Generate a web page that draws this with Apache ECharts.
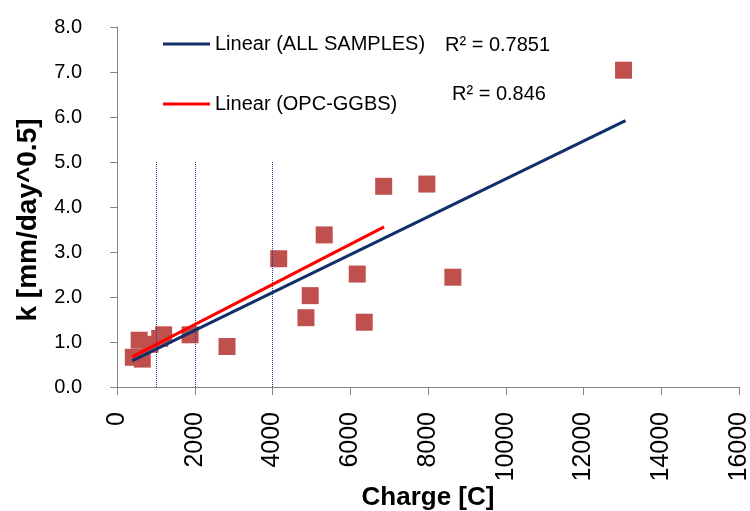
<!DOCTYPE html>
<html>
<head>
<meta charset="utf-8">
<script src="https://cdn.jsdelivr.net/npm/echarts@6/dist/echarts.min.js"></script>
<style>
  html, body { margin: 0; padding: 0; background: #fff; }
  #main { width: 750px; height: 511px; }
</style>
</head>
<body>
<div id="main"></div>
<script>
// measured samples: [charge C, k mm/day^0.5]
var samples = [
  [420, 0.66], [650, 0.62], [570, 1.04], [850, 0.95],
  [1100, 1.08], [1200, 1.16], [1880, 1.16], [2830, 0.90],
  [4160, 2.85], [4860, 1.54], [4970, 2.03], [5330, 3.38],
  [6180, 2.51], [6360, 1.44], [6860, 4.46], [7970, 4.51],
  [8640, 2.44], [13030, 7.04]
];
// trend line end points
var trendAll = [[390, 0.58], [13080, 5.92]];
var trendOpc = [[390, 0.67], [6870, 3.56]];
// dotted guide lines
var guideX = [1000, 2000, 4000];
var guideTop = 5;
var seriesNames = ['Linear (ALL SAMPLES)', 'Linear (OPC-GGBS)'];
var r2Labels = ['R\u00b2 = 0.7851', 'R\u00b2 = 0.846'];

var FONT = '"Liberation Sans", Arial, sans-serif';
var axisGrey = '#868686';

var myChart = echarts.init(document.getElementById('main'));

var guideData = guideX.map(function (x) {
  return [{ coord: [x, 0] }, { coord: [x, guideTop] }];
});

var option = {
  animation: false,
  backgroundColor: '#fff',
  grid: {
    left: 117,
    right: 11,
    top: 27,
    bottom: 124,
    outerBoundsMode: 'none'
  },
  legend: {
    data: seriesNames,
    orient: 'vertical',
    left: 158,
    top: 29,
    itemGap: 40,
    itemWidth: 47,
    itemHeight: 3,
    icon: 'rect',
    textStyle: { fontFamily: FONT, fontSize: 20, color: '#000' }
  },
  graphic: [
    {
      type: 'text', left: 445, top: 35,
      style: { text: r2Labels[0], font: '20px ' + FONT, fill: '#000' }
    },
    {
      type: 'text', left: 452, top: 84,
      style: { text: r2Labels[1], font: '20px ' + FONT, fill: '#000' }
    }
  ],
  xAxis: {
    type: 'value',
    min: 0,
    max: 16000,
    interval: 2000,
    name: 'Charge [C]',
    nameLocation: 'middle',
    nameGap: 98,
    nameMoveOverlap: false,
    nameTextStyle: { fontFamily: FONT, fontSize: 26, fontWeight: 'bold', color: '#000' },
    axisLine: { show: true, lineStyle: { color: axisGrey, width: 1 } },
    axisTick: { show: true, length: 8, lineStyle: { color: axisGrey } },
    splitLine: { show: false },
    axisLabel: {
      rotate: 90,
      margin: 25,
      fontFamily: FONT,
      fontSize: 25,
      color: '#000',
      formatter: function (v) { return String(v); }
    }
  },
  yAxis: {
    type: 'value',
    min: 0,
    max: 8,
    interval: 1,
    name: 'k [mm/day^0.5]',
    nameLocation: 'middle',
    nameGap: 75,
    nameMoveOverlap: false,
    nameTextStyle: {
      fontFamily: FONT, fontSize: 28, fontWeight: 'bold', color: '#000',
      padding: [0, 26, 0, 0]
    },
    axisLine: { show: true, lineStyle: { color: axisGrey, width: 1 } },
    axisTick: { show: true, length: 7, lineStyle: { color: axisGrey } },
    splitLine: { show: false },
    axisLabel: {
      margin: 35,
      fontFamily: FONT,
      fontSize: 20,
      color: '#000',
      formatter: function (v) { return v.toFixed(1); }
    }
  },
  series: [
    {
      name: 'samples',
      type: 'scatter',
      symbol: 'rect',
      symbolSize: 17,
      itemStyle: { color: '#C0504D', opacity: 1 },
      data: samples,
      z: 2
    },
    {
      name: seriesNames[0],
      type: 'line',
      showSymbol: false,
      symbol: 'none',
      lineStyle: { color: '#102F6B', width: 3 },
      itemStyle: { color: '#102F6B' },
      data: trendAll,
      z: 4
    },
    {
      name: seriesNames[1],
      type: 'line',
      showSymbol: false,
      symbol: 'none',
      lineStyle: { color: '#FF0000', width: 3 },
      itemStyle: { color: '#FF0000' },
      data: trendOpc,
      z: 5,
      markLine: {
        silent: true,
        symbol: 'none',
        label: { show: false },
        lineStyle: { color: '#1F3C88', width: 1, type: 'dotted' },
        data: guideData
      }
    }
  ]
};

myChart.setOption(option);
</script>
</body>
</html>
